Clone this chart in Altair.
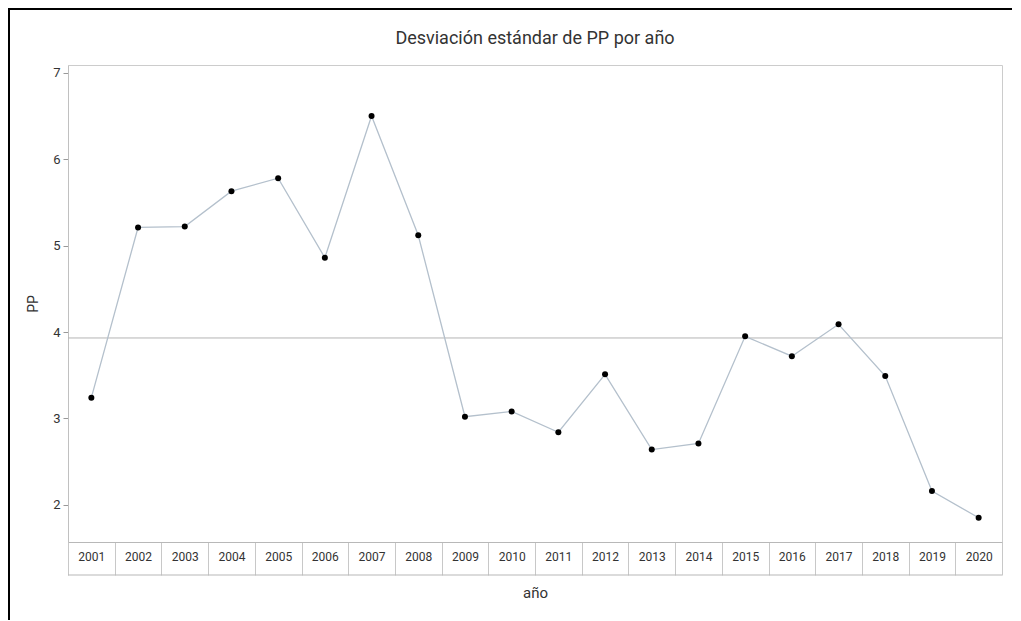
import altair as alt
import pandas as pd

years = [str(y) for y in range(2001, 2021)]
pp = [3.24, 5.21, 5.22, 5.63, 5.78, 4.86, 6.50, 5.12, 3.02, 3.08,
      2.84, 3.51, 2.64, 2.71, 3.95, 3.72, 4.09, 3.49, 2.16, 1.85]
y_ticks = [2, 3, 4, 5, 6, 7]

FONT = "Roboto, Liberation Sans Narrow, sans-serif"
W, H = 934, 477

df = pd.DataFrame({"año": years, "PP": pp})

base = alt.Chart(df)

xenc = alt.X(
    "año:N",
    sort=years,
    scale=alt.Scale(paddingInner=0, paddingOuter=0),
    axis=alt.Axis(
        title="año",
        labelAngle=0,
        tickBand="extent",
        tickSize=33,
        tickColor="#c8c8c8",
        domainColor="#b8b8b8",
        labelFontSize=12,
        labelColor="#333333",
        labelPadding=-24,
        labelFont=FONT,
        titleFont=FONT,
        titleFontSize=15,
        titleFontWeight="normal",
        titleColor="#333333",
        titlePadding=10,
    ),
)
yenc = alt.Y(
    "PP:Q",
    scale=alt.Scale(domain=[1.57, 7.09], nice=False, zero=False),
    axis=alt.Axis(
        title="PP",
        values=y_ticks,
        format="d",
        grid=False,
        tickSize=5,
        tickColor="#999999",
        domainColor="#c0c0c0",
        labelFontSize=13,
        labelColor="#333333",
        labelFont=FONT,
        labelPadding=3,
        titleFont=FONT,
        titleFontSize=14,
        titleFontWeight="normal",
        titleColor="#333333",
        titlePadding=12,
    ),
)

line = base.mark_line(color="#b4c0cc", strokeWidth=1.3).encode(x=xenc, y=yenc)
pts = base.mark_circle(color="black", size=36, opacity=1).encode(x=xenc, y=yenc)
mean_rule = base.mark_rule(color="#b4b4b4", strokeWidth=1).encode(y="mean(PP):Q")

one = alt.Chart(pd.DataFrame({"k": [0]}))
box_bottom = one.mark_rule(color="#b8b8b8", strokeWidth=1.2).encode(
    x=alt.value(0), x2=alt.value(W), y=alt.value(H + 33)
)
frame_left = one.mark_rule(color="black", strokeWidth=2).encode(
    x=alt.value(-59), y=alt.value(-57), y2=alt.value(H + 90)
)
frame_top = one.mark_rule(color="black", strokeWidth=2).encode(
    x=alt.value(-59), x2=alt.value(W + 20), y=alt.value(-56)
)

chart = (
    alt.layer(mean_rule, line, pts, box_bottom, frame_left, frame_top)
    .properties(
        width=W,
        height=H,
        title=alt.TitleParams(
            "Desviación estándar de PP por año",
            font=FONT,
            fontSize=18,
            fontWeight="normal",
            color="#333333",
            offset=16,
            dy=57,
            anchor="middle",
        ),
        autosize=alt.AutoSizeParams(type="none"),
        padding={"left": 60, "top": 57, "right": 10, "bottom": 78},
    )
    .configure_view(stroke="#cccccc", strokeWidth=1)
)

chart.save("out.html", embed_options={"renderer": "svg", "actions": False})
